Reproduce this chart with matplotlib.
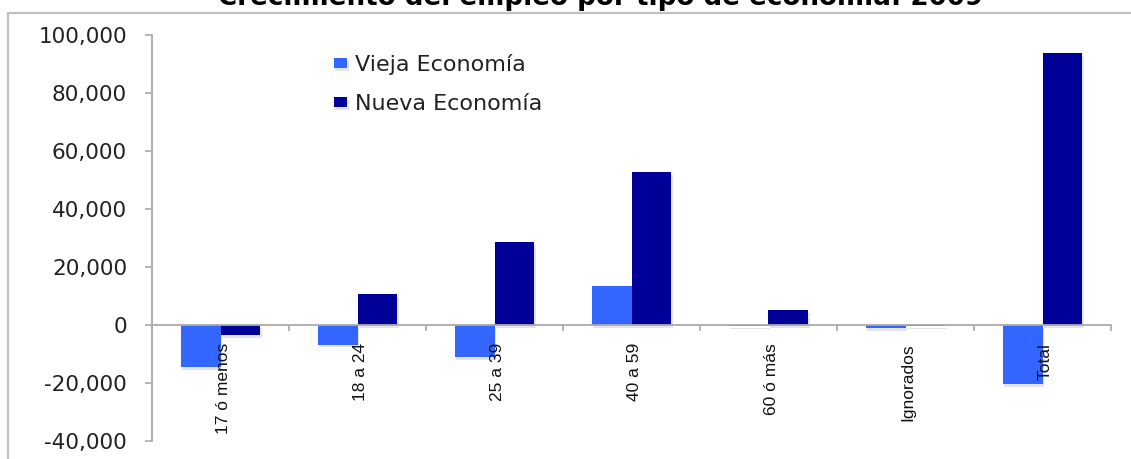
import matplotlib
matplotlib.use("Agg")
import matplotlib.pyplot as plt
import matplotlib.patheffects as pe
from matplotlib.patches import Rectangle
from matplotlib.ticker import FuncFormatter, FixedLocator
import numpy as np

categories = ["17 ó menos", "18 a 24", "25 a 39", "40 a 59", "60 ó más", "Ignorados", "Total"]
vieja = [-14500, -6800, -11000, 13400, -500, -1000, -20400]
nueva = [-3400, 10700, 28600, 52800, 5100, -500, 93800]
series_names = ["Vieja Economía", "Nueva Economía"]
title = "Crecimiento del empleo por tipo de economía: 2009"
yticks = [-40000, -20000, 0, 20000, 40000, 60000, 80000, 100000]

c_vieja = "#3366ff"
c_nueva = "#000099"
axis_grey = "#aaaaaa"

W, H = 1131, 459
fig = plt.figure(figsize=(W / 100, H / 100), dpi=100)

# outer chart frame
frame = Rectangle((8 / W, -0.2), 1.2, 1.2 - 13 / H, transform=fig.transFigure,
                  fill=False, edgecolor="#c0c0c0", linewidth=1.6, zorder=0)
fig.patches.append(frame)

ax = fig.add_axes([152 / W, 1 - 441 / H, (1111 - 152) / W, (441 - 35) / H])
ax.set_facecolor("none")

x = np.arange(len(categories))
bw = 0.29
shadow = [pe.SimplePatchShadow(offset=(1, -2), shadow_rgbFace="#888888", alpha=0.22), pe.Normal()]
b1 = ax.bar(x - bw / 2, vieja, bw, color=c_vieja, label=series_names[0], zorder=3)
b2 = ax.bar(x + bw / 2, nueva, bw, color=c_nueva, label=series_names[1], zorder=3)
for p in list(b1) + list(b2):
    p.set_path_effects(shadow)

ax.set_xlim(-0.5, len(categories) - 0.5)
ax.set_ylim(-40000, 100000)

for s in ["top", "right"]:
    ax.spines[s].set_visible(False)
ax.spines["left"].set_color(axis_grey)
ax.spines["left"].set_linewidth(1.3)
ax.spines["bottom"].set_position(("data", 0))
ax.spines["bottom"].set_color(axis_grey)
ax.spines["bottom"].set_linewidth(1.3)
ax.spines["bottom"].set_zorder(4)

ax.yaxis.set_major_locator(FixedLocator(yticks))
ax.yaxis.set_major_formatter(FuncFormatter(lambda v, _: f"{int(v):,}"))
ax.tick_params(axis="y", direction="out", length=5, width=1.2, color=axis_grey,
               pad=13, labelsize=15.5, labelcolor="#222222")

ax.xaxis.set_major_locator(FixedLocator(np.arange(-0.5, len(categories), 1.0)))
ax.tick_params(axis="x", direction="out", length=4, width=1.2, color=axis_grey,
               labelbottom=False)

for xi, name in zip(x, categories):
    ax.annotate(name, xy=(xi + 0.02, 0), xytext=(0, -18), textcoords="offset pixels",
                rotation=90, ha="center", va="top", fontsize=12.5, color="#111111",
                family="Liberation Sans", zorder=5)

leg = ax.legend(loc="upper left", bbox_to_anchor=(0.18, 0.975), frameon=False,
                fontsize=16, handlelength=0.62, handleheight=0.32, handletextpad=0.35,
                labelspacing=0.85, borderaxespad=0)
for t in leg.get_texts():
    t.set_color("#222222")

fig.text(601 / W, 1 - 5 / H, title, ha="center", va="baseline",
         fontsize=18.8, fontweight="bold", color="#000000")

fig.savefig("out.png", dpi=100)
